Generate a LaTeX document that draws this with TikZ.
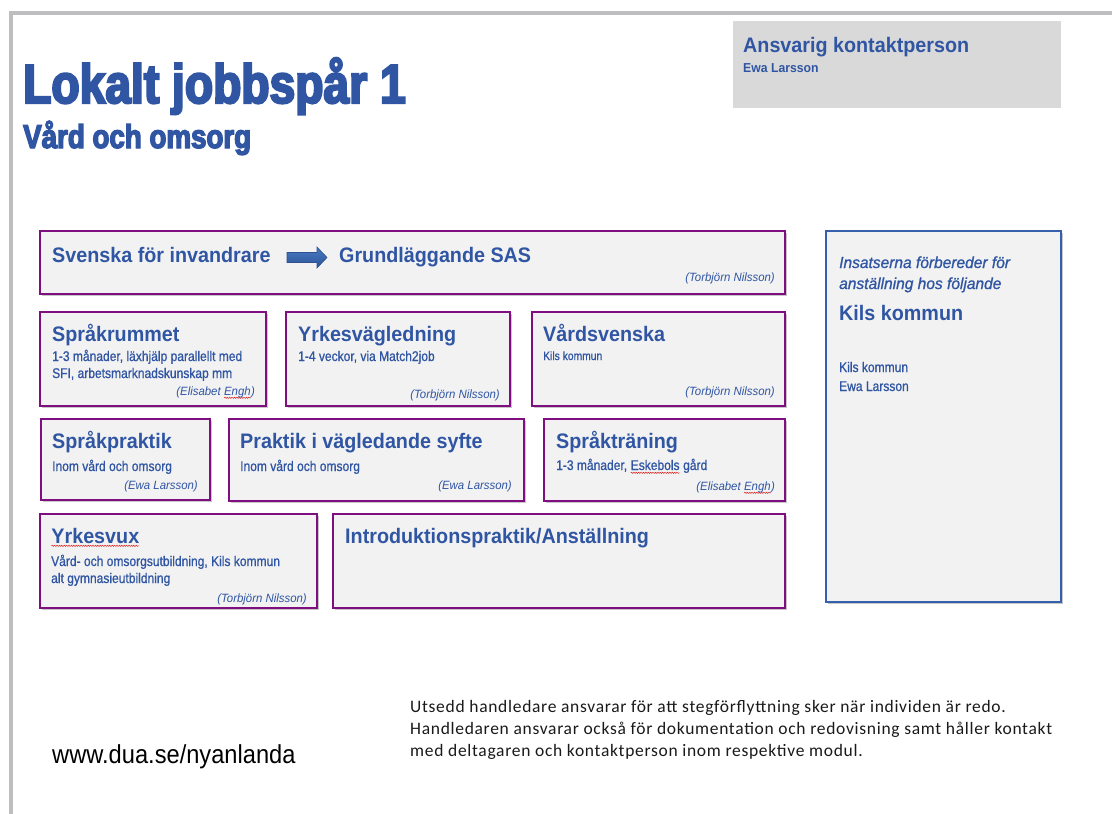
\documentclass[tikz,border=0pt]{standalone}
\usepackage{fontspec}
\setmainfont{Liberation Sans}
\newfontfamily\titlefont{Liberation Sans}[FakeStretch=0.84, BoldFeatures={FakeBold=4}]
\newfontfamily\headfont{Liberation Sans}[FakeStretch=0.94]
\newfontfamily\subfont{Liberation Sans}[FakeStretch=0.86, FakeBold=0.8]
\newfontfamily\namefont{Liberation Sans}[FakeStretch=0.95]
\newfontfamily\ritfont{Liberation Sans}[FakeStretch=0.97, FakeBold=1]
\newfontfamily\urlfont{Liberation Sans}[FakeStretch=0.91]
\newfontfamily\bodyfont{Carlito}[LetterSpace=4]
\usetikzlibrary{calc,shadows,decorations.pathmorphing}
\definecolor{txtblue}{HTML}{2F55A3}
\definecolor{boxpurple}{HTML}{7F0F80}
\definecolor{boxfill}{HTML}{F2F2F2}
\definecolor{rboxblue}{HTML}{3660AB}
\definecolor{framegray}{HTML}{BEBEC1}
\definecolor{contactgray}{HTML}{D9D9D9}
\definecolor{arrowtop}{HTML}{4A7BC4}
\definecolor{arrowbot}{HTML}{2B5296}
\definecolor{arrowline}{HTML}{2F528F}
\definecolor{spellred}{HTML}{E02020}
\definecolor{bodyblack}{HTML}{1A1A1A}
\newcommand{\spellerr}[1]{\tikz[baseline=(sw.base)]{\node[inner sep=0pt, outer sep=0pt](sw){#1};\draw[spellred, line width=0.5pt, decorate, decoration={snake, amplitude=0.6pt, segment length=2.4pt}] ([yshift=-2.8pt]sw.base west) -- ([yshift=-2.8pt]sw.base east);}}
\begin{document}
\begin{tikzpicture}[x=1pt,y=-1pt,
  pageframe/.style={draw=framegray, line width=4pt},
  pbox/.style={draw=boxpurple, line width=2.2pt, fill=boxfill, anchor=north west, inner sep=0pt, outer sep=0pt,
    drop shadow={shadow xshift=2.2pt, shadow yshift=-2.2pt, fill=black, opacity=0.22}},
  rbox/.style={draw=rboxblue, line width=2pt, fill=boxfill, anchor=north west, inner sep=0pt, outer sep=0pt,
    drop shadow={shadow xshift=2.2pt, shadow yshift=-2.2pt, fill=black, opacity=0.22}},
  cbox/.style={fill=contactgray, anchor=north west, inner sep=0pt, outer sep=0pt},
  titlestyle/.style={anchor=base west, inner sep=0pt, text=txtblue, font=\titlefont\bfseries\fontsize{55}{60}\selectfont},
  subtitlestyle/.style={anchor=base west, inner sep=0pt, text=txtblue, font=\titlefont\bfseries\fontsize{33}{38}\selectfont},
  head/.style={anchor=base west, inner sep=0pt, text=txtblue, font=\headfont\bfseries\fontsize{21}{24}\selectfont},
  headsmall/.style={anchor=base west, inner sep=0pt, text=txtblue, font=\headfont\bfseries\fontsize{13}{15}\selectfont},
  sub/.style={anchor=base west, inner sep=0pt, text=txtblue, font=\subfont\fontsize{14}{16}\selectfont},
  subsmall/.style={anchor=base west, inner sep=0pt, text=txtblue, font=\subfont\fontsize{12}{14}\selectfont},
  who/.style={anchor=base east, inner sep=0pt, text=txtblue, font=\namefont\itshape\fontsize{12}{14}\selectfont},
  ritalic/.style={anchor=base west, inner sep=0pt, text=txtblue, font=\ritfont\itshape\fontsize{16}{18}\selectfont},
  urlstyle/.style={anchor=base west, inner sep=0pt, text=black, font=\urlfont\fontsize{26}{30}\selectfont},
  bodystyle/.style={anchor=base west, inner sep=0pt, text=bodyblack, font=\bodyfont\fontsize{17.5}{21}\selectfont},
  arrowfill/.style={top color=arrowtop, bottom color=arrowbot, draw=arrowline, line width=0.6pt}
]
\useasboundingbox (0,0) rectangle (1112,814);
\fill[white] (0,0) rectangle (1112,814);
\draw[pageframe] (11,814) -- (11,12.5) -- (1112,12.5);

% contact box
\node[cbox, minimum width=328, minimum height=87] (contact) at (733,21) {};
\node[head] (contacthead) at ($(contact.north west)+(10,31)$) {Ansvarig kontaktperson};
\node[headsmall] (contactname) at ($(contact.north west)+(10,51)$) {Ewa Larsson};

% title
\node[titlestyle] (title) at (23,103) {Lokalt jobbspår 1};
\node[subtitlestyle] (subtitle) at (23,148) {Vård och omsorg};

% row 1
\node[pbox, minimum width=745, minimum height=63] (sfi) at (40,231) {};
\node[head] (sfihead) at ($(sfi.north west)+(12,31)$) {Svenska för invandrare};
\node[head] (sashead) at ($(sfi.north west)+(299,31)$) {Grundläggande SAS};
\node[who] (sfiwho) at ($(sfi.north east)+(-10,50)$) {(Torbjörn Nilsson)};
\coordinate (arrtail) at ($(sfi.north west)+(247,26.5)$);
\path[arrowfill] (arrtail) ++(0,-5) -- ++(30,0) -- ++(0,-5.5) -- ++(10,10.5) -- ++(-10,10.5) -- ++(0,-5.5) -- ++(-30,0) -- cycle;

% row 2
\node[pbox, minimum width=226, minimum height=94] (sprakrum) at (40,312) {};
\node[head] (sprakrumhead) at ($(sprakrum.north west)+(12,29)$) {Språkrummet};
\node[sub] (sprakrumsub1) at ($(sprakrum.north west)+(12,49)$) {1-3 månader, läxhjälp parallellt med};
\node[sub] (sprakrumsub2) at ($(sprakrum.north west)+(12,66)$) {SFI, arbetsmarknadskunskap mm};
\node[who] (sprakrumwho) at ($(sprakrum.north east)+(-11,83)$) {(Elisabet \spellerr{Engh})};

\node[pbox, minimum width=224, minimum height=94] (yrkesv) at (286,312) {};
\node[head] (yrkesvhead) at ($(yrkesv.north west)+(12,29)$) {Yrkesvägledning};
\node[sub] (yrkesvsub) at ($(yrkesv.north west)+(12,49)$) {1-4 veckor, via Match2job};
\node[who] (yrkesvwho) at ($(yrkesv.north east)+(-10,86)$) {(Torbjörn Nilsson)};

\node[pbox, minimum width=253, minimum height=94] (vardsv) at (532,312) {};
\node[head] (vardsvhead) at ($(vardsv.north west)+(11,29)$) {Vårdsvenska};
\node[subsmall] (vardsvsub) at ($(vardsv.north west)+(11,48)$) {Kils kommun};
\node[who] (vardsvwho) at ($(vardsv.north east)+(-10,83)$) {(Torbjörn Nilsson)};

% row 3
\node[pbox, minimum width=169, minimum height=81] (sprakpr) at (41,419) {};
\node[head] (sprakprhead) at ($(sprakpr.north west)+(11,29)$) {Språkpraktik};
\node[sub] (sprakprsub) at ($(sprakpr.north west)+(11,52)$) {Inom vård och omsorg};
\node[who] (sprakprwho) at ($(sprakpr.north east)+(-12,70)$) {(Ewa Larsson)};

\node[pbox, minimum width=295, minimum height=82] (praktik) at (229,419) {};
\node[head] (praktikhead) at ($(praktik.north west)+(11,29)$) {Praktik i vägledande syfte};
\node[sub] (praktiksub) at ($(praktik.north west)+(11,52)$) {Inom vård och omsorg};
\node[who] (praktikwho) at ($(praktik.north east)+(-12,70)$) {(Ewa Larsson)};

\node[pbox, minimum width=241, minimum height=82] (spraktr) at (544,419) {};
\node[head] (spraktrhead) at ($(spraktr.north west)+(12,29)$) {Språkträning};
\node[sub] (spraktrsub) at ($(spraktr.north west)+(12,51)$) {1-3 månader, \spellerr{Eskebols} gård};
\node[who] (spraktrwho) at ($(spraktr.north east)+(-10,71)$) {(Elisabet \spellerr{Engh})};

% row 4
\node[pbox, minimum width=277, minimum height=94] (yrkesvux) at (40,514) {};
\node[head] (yrkesvuxhead) at ($(yrkesvux.north west)+(11,29)$) {\spellerr{Yrkesvux}};
\node[sub] (yrkesvuxsub1) at ($(yrkesvux.north west)+(11,52)$) {Vård- och omsorgsutbildning, Kils kommun};
\node[sub] (yrkesvuxsub2) at ($(yrkesvux.north west)+(11,69)$) {alt gymnasieutbildning};
\node[who] (yrkesvuxwho) at ($(yrkesvux.north east)+(-10,88)$) {(Torbjörn Nilsson)};

\node[pbox, minimum width=452, minimum height=94] (intro) at (333,514) {};
\node[head] (introhead) at ($(intro.north west)+(12,29)$) {Introduktionspraktik/Anställning};

% right box
\node[rbox, minimum width=235, minimum height=371] (kil) at (826,231) {};
\node[ritalic] (kilit1) at ($(kil.north west)+(13,37)$) {Insatserna förbereder för};
\node[ritalic] (kilit2) at ($(kil.north west)+(13,58)$) {anställning hos följande};
\node[head] (kilhead) at ($(kil.north west)+(13,89)$) {Kils kommun};
\node[sub] (kilsub1) at ($(kil.north west)+(13,141)$) {Kils kommun};
\node[sub] (kilsub2) at ($(kil.north west)+(13,160)$) {Ewa Larsson};

% bottom
\node[urlstyle] (url) at (52,763) {www.dua.se/nyanlanda};
\node[bodystyle] (note1) at (410,712) {Utsedd handledare ansvarar för att stegförflyttning sker när individen är redo.};
\node[bodystyle] (note2) at (410,734) {Handledaren ansvarar också för dokumentation och redovisning samt håller kontakt};
\node[bodystyle] (note3) at (410,756) {med deltagaren och kontaktperson inom respektive modul.};
\end{tikzpicture}
\end{document}
